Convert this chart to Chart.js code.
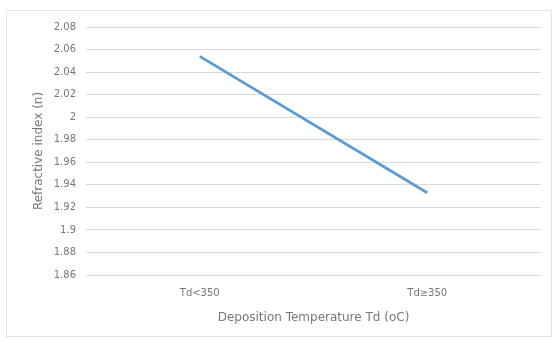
<!DOCTYPE html>
<html>
<head>
<meta charset="utf-8">
<script src="https://cdn.jsdelivr.net/npm/chart.js@4/dist/chart.umd.min.js"></script>
<style>
  html, body { margin: 0; padding: 0; background: #fff; }
  #wrap { position: relative; width: 555px; height: 340px; }
  #frame { position: absolute; left: 6px; top: 10px; width: 546px; height: 327px; border: 1px solid #e3e3e3; box-sizing: border-box; pointer-events: none; }
</style>
</head>
<body>
<div id="wrap">
  <canvas id="chart" width="555" height="340"></canvas>
  <div id="frame"></div>
</div>
<script>
const categories = ['Td<350', 'Td\u2265350'];
const refractiveIndex = [2.054, 1.933];
const yMin = 1.86;
const yMax = 2.08;
const yStep = 0.02;

const textColor = '#777777';
const fontFamily = "'DejaVu Sans', sans-serif";

const ctx = document.getElementById('chart');
new Chart(ctx, {
    type: 'line',
    data: {
        labels: categories,
        datasets: [
            {
                label: 'Refractive index',
                data: refractiveIndex,
                borderColor: '#5B9BD5',
                backgroundColor: '#5B9BD5',
                borderWidth: 2.75,
                pointRadius: 0,
                fill: false,
                tension: 0
            }
        ]
    },
    options: {
        responsive: false,
        animation: false,
        layout: { padding: { top: 27, right: 14, left: 28, bottom: 11 } },
        plugins: {
            legend: { display: false },
            tooltip: { enabled: false }
        },
        scales: {
            x: {
                offset: true,
                grid: { display: false, drawTicks: false },
                border: { display: false },
                ticks: { color: textColor, font: { family: fontFamily, size: 10 }, padding: 12 },
                title: {
                    display: true,
                    text: 'Deposition Temperature Td (oC)',
                    color: textColor,
                    font: { family: fontFamily, size: 12 },
                    padding: { top: 3 }
                },
                afterFit: function (scale) { scale.height = 54; }
            },
            y: {
                min: yMin,
                max: yMax,
                grid: { color: '#d9d9d9', drawTicks: false, lineWidth: 1 },
                border: { display: false },
                ticks: {
                    stepSize: yStep,
                    color: textColor,
                    font: { family: fontFamily, size: 10 },
                    padding: 10,
                    callback: function (v) { return parseFloat(v.toFixed(2)).toString(); }
                },
                title: {
                    display: true,
                    text: 'Refractive index (n)',
                    color: textColor,
                    font: { family: fontFamily, size: 12 },
                    padding: { bottom: 1 }
                },
                afterFit: function (scale) { scale.width = 58; }
            }
        }
    }
});
</script>
</body>
</html>
